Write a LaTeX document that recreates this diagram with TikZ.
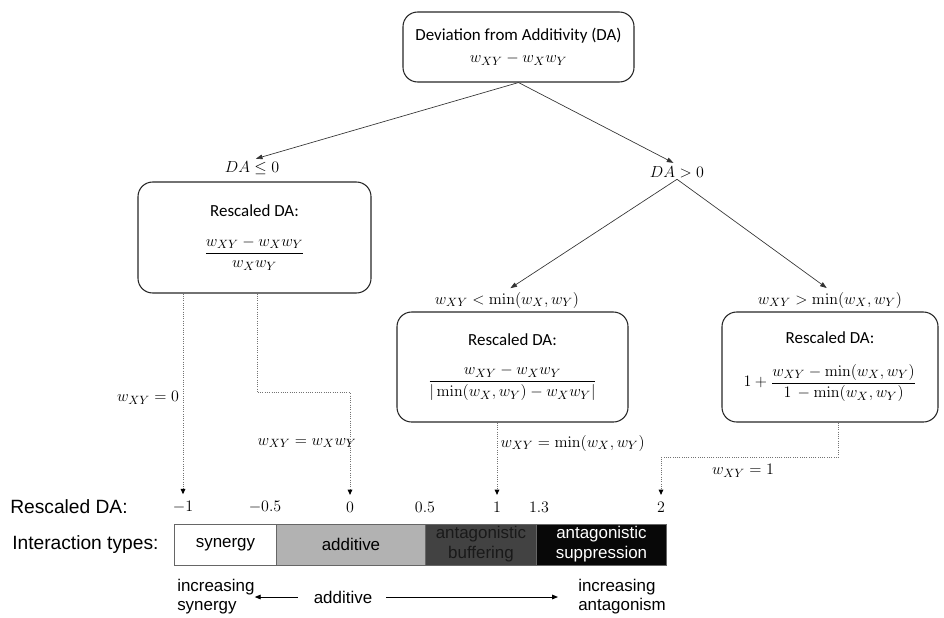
\documentclass[tikz,border=0pt]{standalone}
\usepackage{amsmath}
\usepackage[no-math]{fontspec}
\setmainfont{Carlito}
\newfontfamily\arialfont{Liberation Sans}
\usetikzlibrary{arrows.meta,positioning}
\definecolor{barlight}{RGB}{178,178,178}
\definecolor{bardark}{RGB}{66,66,66}
\definecolor{barblack}{RGB}{8,8,8}

\begin{document}
\begin{tikzpicture}[x=0.75pt,y=-0.75pt,
  dabox/.style={draw=black!85, line width=0.8pt, rounded corners=11pt, align=center, inner sep=0pt, font=\fontsize{12.7}{16.5}\selectfont},
  lbl/.style={inner sep=1pt, font=\fontsize{12.7}{15}\selectfont},
  arr/.style={-{Triangle[length=5pt,width=3.5pt]}, line width=0.5pt, draw=black!80, shorten >=3pt},
  dots/.style={densely dotted, draw=black!55, line width=0.7pt, shorten >=4pt, -{Triangle[length=4pt,width=3.5pt,black]}},
  seg/.style={draw=black!60, line width=0.7pt, anchor=west, minimum height=30.75pt, inner sep=0pt, align=center, font=\arialfont\fontsize{12.7}{15}\selectfont},
  side/.style={anchor=west, inner sep=0pt, font=\arialfont\fontsize{14.4}{16}\selectfont},
  bot/.style={inner sep=0pt, align=left, font=\arialfont\fontsize{12.7}{14.25}\selectfont},
  arrb/.style={-{Triangle[length=4.5pt,width=3.5pt]}, line width=0.7pt}
]
\useasboundingbox (0,0) rectangle (944,617);

% the tree of cases
\node[dabox, minimum width=173.25pt, minimum height=52.5pt] (topbox) at (518.5,47) {Deviation from Additivity (DA)\\ $w_{XY}-w_Xw_Y$};
\node[lbl] (le) at (252,168) {$DA\leq 0$};
\node[lbl] (gt) at (677,172) {$DA>0$};
\node[dabox, minimum width=174.75pt, minimum height=83.25pt] (leftbox) at (254.5,237.5) {Rescaled DA:\\[14pt] $\dfrac{w_{XY}-w_Xw_Y}{w_Xw_Y}$};
\node[lbl] (lt) at (507,300) {$w_{XY}<\min(w_X,w_Y)$};
\node[lbl] (gm) at (830,300) {$w_{XY}>\min(w_X,w_Y)$};
\node[dabox, minimum width=173.25pt, minimum height=82.5pt] (midbox) at (512.5,367) {Rescaled DA:\\[14pt] $\dfrac{w_{XY}-w_Xw_Y}{|\min(w_X,w_Y)-w_Xw_Y|}$};
\node[dabox, minimum width=162pt, minimum height=82.5pt] (rightbox) at (830,367) {Rescaled DA:\\[14pt] $1+\dfrac{w_{XY}-\min(w_X,w_Y)}{1\,-\min(w_X,w_Y)}$};
\draw[arr] (topbox.south) -- (le.north);
\draw[arr] (topbox.south) -- (gt.north);
\draw[arr] (gt.south) -- (lt.north);
\draw[arr] (gt.south) -- (gm.north);

% scale of rescaled DA
\node[side] (rda) at (10,507) {Rescaled DA:};
\node[side] (itypes) at (12,545) {Interaction types:};
\node[lbl] (tm1) at (183,507) {$-1$};
\node[lbl] (tmh) at (265,507) {$-0.5$};
\node[lbl] (t0) at (350,507) {$0$};
\node[lbl] (th) at (425,507) {$0.5$};
\node[lbl] (t1) at (497,507) {$1$};
\node[lbl] (t13) at (539,507) {$1.3$};
\node[lbl] (t2) at (661,507) {$2$};

\draw[dots] (tm1 |- leftbox.south) -- (tm1.north);
\draw[dots] ([xshift=2pt]leftbox.south) -- ++(0,99) -| (t0.north);
\draw[dots] (t1 |- midbox.south) -- (t1.north);
\draw[dots] ([xshift=6pt]rightbox.south) -- ++(0,35) -| (t2.north);
\node[lbl] (ezero) at (148,398) {$w_{XY}=0$};
\node[lbl] (eprod) at (307,443) {$w_{XY}=w_Xw_Y$};
\node[lbl, anchor=west] (emin) at (499,443) {$w_{XY}=\min(w_X,w_Y)$};
\node[lbl] (eone) at (743,471) {$w_{XY}=1$};

% interaction types
\node[seg, fill=white, minimum width=76.5pt] (syn) at (174,544.5) {synergy};
\node[seg, fill=barlight, minimum width=111.75pt] (add) at (276,544.5) {additive};
\node[seg, fill=bardark, minimum width=83.25pt, text=black!90] (buf) at (425,544.5) {antagonistic\\buffering};
\node[seg, fill=barblack, minimum width=97.5pt, text=white] (sup) at (536,544.5) {antagonistic\\suppression};

\node[bot, anchor=west] (incsyn) at (177,597) {increasing\\synergy};
\node[bot] (addl) at (343,597) {additive};
\node[bot, anchor=west] (incant) at (578,597) {increasing\\antagonism};
\draw[arrb, shorten <=12pt] (addl.west) -- (incsyn.east);
\draw[arrb, shorten <=10.5pt, shorten >=15pt] (addl.east) -- (incant.west);
\end{tikzpicture}
\end{document}
